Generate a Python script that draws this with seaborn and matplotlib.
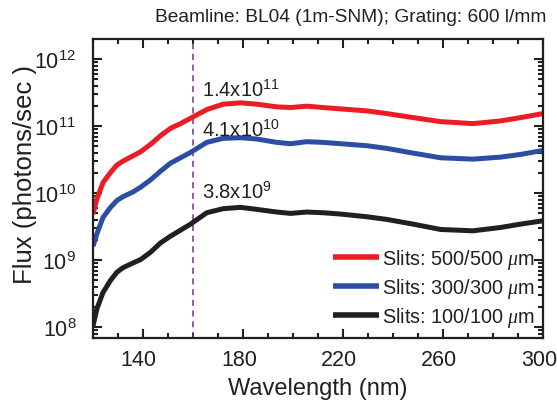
import numpy as np
import pandas as pd
import matplotlib
matplotlib.use("Agg")
import matplotlib.pyplot as plt
import matplotlib.ticker as mticker
import matplotlib.transforms as mtrans
import seaborn as sns

# values (flux given as log10 exponents)
wavelength = [120, 121.5, 124, 127, 129.5, 132, 136, 139, 143, 147, 151, 155, 159,
              165.5, 172, 179, 185.5, 193.5, 199, 205.5, 212, 219, 229.5, 237.5,
              248, 259, 272, 283, 291, 300]
log_flux_500 = [9.69, 9.91, 10.16, 10.31, 10.42, 10.48, 10.56, 10.62, 10.73, 10.86,
                10.97, 11.04, 11.12, 11.25, 11.33, 11.35, 11.33, 11.29, 11.28, 11.30,
                11.28, 11.26, 11.23, 11.19, 11.13, 11.07, 11.04, 11.08, 11.13, 11.19]
log_flux_300 = [9.21, 9.39, 9.64, 9.79, 9.89, 9.95, 10.02, 10.09, 10.20, 10.33,
                10.45, 10.53, 10.61, 10.76, 10.82, 10.83, 10.81, 10.76, 10.74, 10.77,
                10.76, 10.74, 10.71, 10.67, 10.60, 10.53, 10.51, 10.54, 10.58, 10.64]
log_flux_100 = [8.02, 8.27, 8.52, 8.70, 8.82, 8.89, 8.96, 9.01, 9.12, 9.26,
                9.36, 9.45, 9.54, 9.71, 9.77, 9.79, 9.76, 9.72, 9.70, 9.72,
                9.71, 9.69, 9.65, 9.61, 9.54, 9.46, 9.44, 9.49, 9.54, 9.59]
slit_names = ["Slits: 500/500 $\\mu$m", "Slits: 300/300 $\\mu$m", "Slits: 100/100 $\\mu$m"]
slit_colors = ["#ec1c24", "#2b4ea2", "#231f20"]

marker_nm = 160
notes = ["1.4x10$^{11}$", "4.1x10$^{10}$", "3.8x10$^{9}$"]
note_y = [3.6e11, 8.9e10, 1.07e10]

df = pd.concat([
    pd.DataFrame({"wl": wavelength, "flux": 10 ** np.array(lf), "slit": name})
    for lf, name in zip([log_flux_500, log_flux_300, log_flux_100], slit_names)
])

sns.set_style("ticks")
plt.rcParams["font.family"] = ["Liberation Sans", "DejaVu Sans"]
plt.rcParams["mathtext.fontset"] = "custom"
plt.rcParams["mathtext.rm"] = "Liberation Sans"
plt.rcParams["mathtext.it"] = "Liberation Serif:italic"
txt = "#231f20"

fig = plt.figure(figsize=(5.57, 4.06), dpi=100)
ax = fig.add_axes([0.167, 0.165, 0.808, 0.736])

sns.lineplot(data=df, x="wl", y="flux", hue="slit", palette=slit_colors,
             linewidth=3.6, ax=ax, legend=True,
             solid_joinstyle="round", solid_capstyle="butt")
ax.set_yscale("log")
ax.set_xlim(120, 300)
ax.set_ylim(10**7.84, 10**12.3)

ax.axvline(marker_nm, color="#7b2d8e", linestyle=(0, (4, 3)), linewidth=1.1, zorder=1)
for s, yy in zip(notes, note_y):
    ax.text(163.5, yy, s, fontsize=14.5, color=txt, va="center", ha="left")

ax.xaxis.set_major_locator(mticker.FixedLocator([140, 180, 220, 260, 300]))
ax.xaxis.set_minor_locator(mticker.MultipleLocator(10))
ax.yaxis.set_major_locator(mticker.LogLocator(base=10))
ax.yaxis.set_minor_locator(mticker.LogLocator(base=10, subs=np.arange(2, 10)))
ax.yaxis.set_minor_formatter(mticker.NullFormatter())
ax.tick_params(which="both", direction="in", top=True, right=True,
               colors=txt, labelcolor=txt, width=1.5)
ax.tick_params(which="major", length=6.5, labelsize=15.5)
ax.tick_params(axis="x", which="major", pad=8)
ax.tick_params(axis="y", which="major", pad=12)
ax.tick_params(which="minor", length=3.5)
for sp in ax.spines.values():
    sp.set_linewidth(1.6)
    sp.set_color(txt)

# x tick labels sit a little left of their ticks in the reference
shift = mtrans.ScaledTranslation(-3 / 72, 0, fig.dpi_scale_trans)
for lab in ax.get_xticklabels():
    lab.set_transform(lab.get_transform() + shift)

ax.set_xlabel("Wavelength (nm)", fontsize=17, color=txt, labelpad=5)
ax.set_ylabel("Flux (photons/sec )", fontsize=18.5, color=txt)
ax.yaxis.set_label_coords(-0.125, 0.55)
fig.text(0.63, 0.956, "Beamline: BL04 (1m-SNM); Grating: 600 l/mm",
         fontsize=13.8, color=txt, ha="center", va="center")

leg = ax.legend(loc="lower right", bbox_to_anchor=(0.995, 0.01), frameon=False,
                fontsize=14.3, handlelength=2.3, handletextpad=0.15,
                labelspacing=0.25, borderaxespad=0.0, borderpad=0.3)
for line in leg.get_lines():
    line.set_linewidth(4)
for t in leg.get_texts():
    t.set_color(txt)

fig.savefig("out.png", dpi=100)
